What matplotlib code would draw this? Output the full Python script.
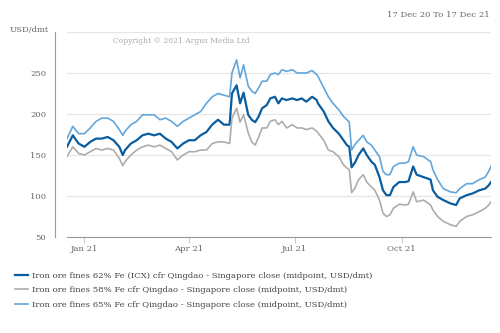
import pandas as pd
import matplotlib
matplotlib.use('Agg')
import matplotlib.pyplot as plt
import matplotlib.dates as mdates

plt.rcParams['font.family'] = 'DejaVu Serif'

# days since 17 Dec 2020
days = [0, 5, 10, 15, 20, 25, 30, 35, 40, 45, 48, 50, 55, 60, 65, 70, 75, 80, 85, 90,
        95, 100, 105, 110, 115, 120, 125, 130, 135, 140, 142, 146, 149, 152, 156, 159, 162, 165, 168, 172,
        175, 179, 182, 185, 189, 194, 198, 202, 206, 211, 215, 216, 221, 225, 229, 234, 238, 241, 243, 245,
        248, 251, 255, 258, 262, 265, 269, 272, 275, 278, 281, 286, 291, 294, 298, 301, 307, 313, 315, 319,
        324, 330, 335, 338, 344, 349, 355, 360, 363, 365]

fe62 = [160, 174, 164, 160, 166, 170, 170, 172, 168, 160, 150, 156, 164, 168, 174, 176, 174, 176, 170, 166,
        158, 164, 168, 168, 174, 178, 187, 193, 187, 187, 225, 235, 213, 226, 199, 193, 190, 197, 207, 211,
        219, 221, 213, 219, 217, 219, 217, 219, 215, 221, 217, 213, 203, 191, 183, 176, 168, 162, 160, 135,
        141, 150, 158, 150, 142, 138, 123, 107, 101, 101, 111, 117, 117, 118, 136, 126, 123, 120, 107, 99,
        95, 91, 89, 97, 101, 103, 107, 109, 113, 117]

fe58 = [148, 160, 152, 150, 154, 158, 156, 158, 156, 146, 137, 142, 150, 156, 160, 162, 160, 162, 158, 154,
        144, 150, 154, 154, 156, 156, 164, 166, 166, 164, 195, 207, 190, 199, 177, 166, 162, 172, 183, 183,
        191, 193, 187, 191, 183, 187, 183, 183, 181, 183, 179, 177, 168, 156, 154, 148, 138, 134, 132, 104,
        110, 120, 126, 117, 111, 107, 95, 79, 75, 77, 85, 90, 89, 90, 105, 93, 95, 89, 83, 75,
        69, 65, 63, 69, 75, 77, 81, 85, 89, 93]

fe65 = [170, 185, 176, 176, 183, 191, 195, 195, 191, 181, 174, 179, 187, 191, 199, 199, 199, 193, 195, 191,
        185, 191, 195, 199, 203, 213, 221, 225, 223, 221, 250, 266, 244, 260, 234, 228, 225, 232, 240, 240,
        248, 250, 248, 254, 252, 254, 250, 250, 250, 253, 248, 246, 232, 221, 213, 205, 197, 193, 190, 156,
        163, 168, 174, 166, 162, 156, 148, 130, 126, 126, 136, 140, 140, 142, 160, 150, 148, 142, 132, 120,
        109, 105, 104, 109, 115, 115, 120, 123, 130, 136]

labels = ['Iron ore fines 62% Fe (ICX) cfr Qingdao - Singapore close (midpoint, USD/dmt)',
          'Iron ore fines 58% Fe cfr Qingdao - Singapore close (midpoint, USD/dmt)',
          'Iron ore fines 65% Fe cfr Qingdao - Singapore close (midpoint, USD/dmt)']
colors = ['#0b5d9e', '#adadad', '#62a6dc']
widths = [1.6, 1.2, 1.2]

start = pd.Timestamp('2020-12-17')
dates = start + pd.to_timedelta(days, unit='D')

fs = 6.1
fig = plt.figure(figsize=(5, 3.33), dpi=100)
ax = fig.add_axes([67/500, 1-237/333, 424/500, 205/333])

for vals, lab, c, w in zip([fe62, fe58, fe65], labels, colors, widths):
    ax.plot(dates, vals, color=c, lw=w, label=lab)

ax.set_xlim(start, pd.Timestamp('2021-12-17'))
ax.set_ylim(50, 300)
ax.set_yticks([50, 100, 150, 200, 250])
ax.grid(axis='y', color='#e6e6e6', lw=0.9)
ax.axhline(300, color='#e6e6e6', lw=0.9, zorder=0)
ax.set_axisbelow(True)

ax.xaxis.set_major_locator(mdates.MonthLocator(bymonth=[1, 4, 7, 10]))
ax.xaxis.set_major_formatter(mdates.DateFormatter('%b %y'))

for s in ['top', 'right']:
    ax.spines[s].set_visible(False)
ax.spines['left'].set_position(('outward', 9))
ax.spines['left'].set_color('#999999')
ax.spines['bottom'].set_color('#999999')
ax.tick_params(axis='y', length=0, pad=6, labelsize=fs, labelcolor='#666666')
ax.tick_params(axis='x', length=4, width=0.8, color='#cccccc', pad=2, labelsize=fs, labelcolor='#666666')

fig.text(49/500, 1-30/333, 'USD/dmt', ha='right', va='center', fontsize=fs, color='#666666')
fig.text(490/500, 1-15/333, '17 Dec 20 To 17 Dec 21', ha='right', va='center', fontsize=fs, color='#666666')
fig.text(113/500, 1-41/333, 'Copyright \u00a9 2021 Argus Media Ltd', ha='left', va='center',
         fontsize=5.5, color='#aaaaaa')

leg = fig.legend(loc='upper left', bbox_to_anchor=(15/500, 1-272/333), borderaxespad=0, borderpad=0,
                 handlelength=1.5, handletextpad=0.55, labelspacing=0.75, frameon=False, fontsize=fs)
for t in leg.get_texts():
    t.set_color('#444444')

fig.savefig('out.png', dpi=100)
